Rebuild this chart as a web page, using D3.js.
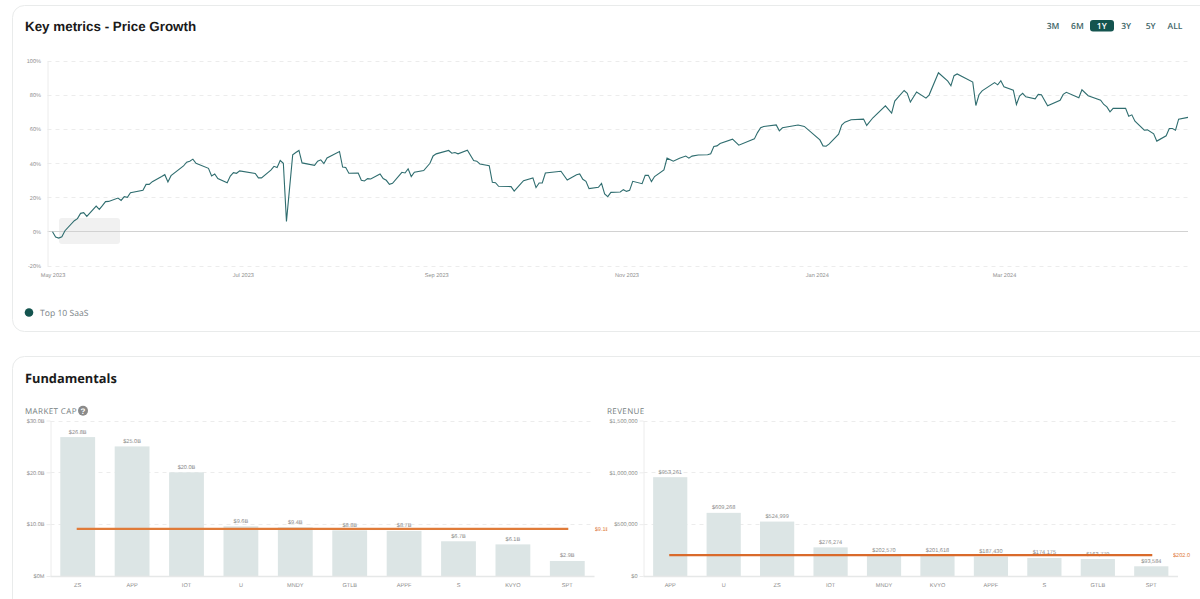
<!DOCTYPE html>
<html>
<head>
<meta charset="utf-8">
<style>
	html, body {
	  margin: 0;
	  background: #fff;
	  overflow: hidden;
	}

	svg {
	  display: block;
	  font-family: "Liberation Sans", Arial, sans-serif;
	  text-rendering: geometricPrecision;
	}

	.card {
	  fill: #fff;
	  stroke: #e9ebeb;
	  stroke-width: 1;
	}

	.tick text {
	  fill: #8f8f8f;
	  font-size: 5.6px;
	}

	.grid line {
	  stroke: #ececec;
	  stroke-dasharray: 4 4;
	}

	.bar {
	  fill: #dce5e5;
	}

	.bar-label {
	  fill: #8a8a8a;
	  font-size: 5.6px;
	  text-anchor: middle;
	}
</style>
</head>
<body>
<svg width="1200" height="599"></svg>

<script src="https://d3js.org/d3.v7.min.js"></script>
<script>

// price growth: days since 1 May 2023 / % growth
var dayOffsets = [0,1,2,3,4,7,8,9,10,11,14,15,16,17,18,21,22,23,24,25,29,30,31,32,35,36,37,38,42,43,44,45,46,50,51,52,53,56,57,58,59,60,65,66,67,70,71,72,73,74,75,77,78,79,80,84,85,86,87,88,92,93,94,95,98,99,100,101,102,105,106,107,108,109,112,113,114,115,116,119,121,122,123,127,128,129,130,133,135,136,137,140,141,142,143,147,148,150,151,154,155,156,157,158,163,165,168,169,170,171,172,175,176,177,178,179,182,183,184,185,186,189,190,191,192,193,196,197,199,201,203,204,205,207,210,211,212,213,214,218,220,225,226,227,228,232,233,234,239,241,246,247,248,249,252,253,254,256,260,261,263,267,269,270,273,274,275,277,280,281,284,287,288,289,290,295,296,297,298,302,303,304,305,308,309,310,311,312,315,316,317,319,323,324,325,329,330,332,336,337,338,339,340,344,345,346,347,350,351,353,354,357,358,359,360,361,364];
var growthPct = [-0.2,-3.3,-3.9,-3.1,0.4,6.3,7.5,10.6,11,8.8,14.9,12.9,15.1,17.5,17.6,19.6,18.2,20.4,20,22.7,24.1,27.6,27.6,29.2,32.2,33.3,29,32.7,38.4,40.6,41.2,42.4,40,37,32.5,33.7,31,28.6,32.5,34.5,34.1,35.5,34,31.4,31.4,36,38.2,37.5,41.6,40,5.9,44.9,46.3,47.5,40.2,38.8,41.2,42,39.8,43.1,46.9,37.8,37.5,34.1,34.3,30,29.6,31,30.8,33.7,31,30,27.6,28.2,34.7,34.3,36.7,32.2,34.7,35.7,40,44.3,45.5,47.5,45.9,46.3,45.5,47.6,41.6,41.2,39.6,38.6,28.8,28.6,26.5,26.3,23.7,27.8,29.8,31.4,25.7,28.4,28.4,34.3,35.3,30.2,33.3,33.7,30.6,29.4,25.1,25.9,28.2,22,20.4,22.9,23.1,24.5,23.5,24.1,29.4,28,32.9,32.9,29.2,32.2,36.1,43,41.2,43,44.2,43,44.2,44.8,45,45.6,49.8,50.2,51.6,54.1,50.6,54.3,58,60.8,61.6,62.5,59,60.8,62.4,61.6,53.7,50.2,50,51.4,57.1,62.4,64.1,65.5,65.9,62.2,66.7,73.7,69.4,76.5,82.7,81,75.9,81.8,78.2,80,93.1,88.2,85.5,91.4,92.4,87.6,73.9,80.2,82.5,87.3,86,88.4,84.9,82.9,74.5,79.4,81,79,77.8,80.4,80.2,73.7,76.9,80.4,81.6,78.4,83.1,79.6,77,74.5,73.1,70.2,72.2,72.2,67.6,68.4,64.7,59.4,59.6,57.3,53,56.1,60.4,60.4,59.4,65.9,66.9];
var pctTicks = [-20,0,20,40,60,80,100];
var monthTicks = [new Date(2023,4,1), new Date(2023,6,1), new Date(2023,8,1), new Date(2023,10,1), new Date(2024,0,1), new Date(2024,2,1)];
var ranges = ["3M","6M","1Y","3Y","5Y","ALL"];

var capTickers = ["ZS","APP","IOT","U","MNDY","GTLB","APPF","S","KVYO","SPT"];
var capValues = [26.8,25.0,20.0,9.6,9.4,8.8,8.7,6.7,6.1,2.9];
var capTicks = [0,10,20,30];
var capAverage = 9.1;

var revTickers = ["APP","U","ZS","IOT","MNDY","KVYO","APPF","S","GTLB","SPT"];
var revValues = [953261,609268,524999,276274,202570,201618,187430,174175,163779,93584];
var revTicks = [0,500000,1000000,1500000];
var revAverage = 202000;

var green = "#14544f";
var orange = "#e07b39";

var svg = d3.select("svg");

// cards run off the right edge and the bottom of the window
svg.append("rect").attr("class","card").attr("x",12.5).attr("y",5.5).attr("width",1230).attr("height",326).attr("rx",12);
svg.append("rect").attr("class","card").attr("x",12.5).attr("y",356.5).attr("width",1230).attr("height",320).attr("rx",12);

svg.append("text").attr("x",25).attr("y",31)
	.style("font-size","13.4px").style("font-weight","bold").style("fill","#1a1a1a")
	.text("Key metrics - Price Growth");

svg.append("text").attr("x",25).attr("y",383)
	.style("font-family","'Open Sans'").style("font-size","12.8px").style("font-weight","700").style("fill","#1a1a1a")
	.text("Fundamentals");

// range buttons
var rangeX = d3.scalePoint().domain(ranges).range([1053,1175]);
svg.append("rect").attr("x",1090).attr("y",20).attr("width",24).attr("height",11.5).attr("rx",3).attr("fill",green);
svg.selectAll(".range")
	.data(ranges)
	.join("text")
	.attr("class","range")
	.attr("x",function(d){
		return rangeX(d);
	})
	.attr("y",28.5)
	.attr("text-anchor","middle")
	.style("font-family","'Open Sans'")
	.style("font-size","8.5px")
	.style("font-weight","600")
	.style("fill",function(d){
		return d === "1Y" ? "#fff" : "#3f6668";
	})
	.text(function(d){
		return d;
	});

// price growth line
var lineLeft = 47.5, lineRight = 1188;
var startDate = new Date(2023,4,1);
var x = d3.scaleTime()
	.domain([startDate, d3.timeDay.offset(startDate,364)])
	.range([52.5,1188]);
var y = d3.scaleLinear().domain([-20,100]).range([265.5,61]);

var lineData = dayOffsets.map(function(d,i){
	return {date: d3.timeDay.offset(startDate,d), value: growthPct[i]};
});

svg.append("g")
	.attr("class","grid")
	.selectAll("line")
	.data(pctTicks.filter(function(d){ return d !== 0; }))
	.join("line")
	.attr("x1",lineLeft)
	.attr("x2",lineRight)
	.attr("y1",function(d){ return Math.round(y(d)) + 0.5; })
	.attr("y2",function(d){ return Math.round(y(d)) + 0.5; });

// watermark box behind the start of the line
svg.append("rect").attr("x",59).attr("y",218).attr("width",61).attr("height",26).attr("rx",3).attr("fill","#f1f1f1");

svg.append("line").attr("x1",lineLeft).attr("x2",lineRight).attr("y1",231.5).attr("y2",231.5).attr("stroke","#d2d2d2");

var yAxisG = svg.append("g")
	.attr("transform","translate(" + lineLeft + ",0)")
	.call(d3.axisLeft(y).tickValues(pctTicks).tickSize(0).tickPadding(6.5).tickFormat(function(d){ return d + "%"; }));
yAxisG.select(".domain").attr("stroke","#ececec");

var xAxisG = svg.append("g")
	.attr("transform","translate(0,270)")
	.call(d3.axisBottom(x).tickValues(monthTicks).tickSize(0).tickPadding(3).tickFormat(d3.timeFormat("%b %Y")));
xAxisG.select(".domain").remove();

svg.append("path")
	.datum(lineData)
	.attr("fill","none")
	.attr("stroke","#2f6d6f")
	.attr("stroke-width",1.1)
	.attr("d",d3.line()
		.x(function(d){ return x(d.date); })
		.y(function(d){ return y(d.value); }));

// legend
svg.append("circle").attr("cx",29).attr("cy",312.5).attr("r",4.3).attr("fill",green);
svg.append("text").attr("x",40).attr("y",316)
	.style("font-family","'Open Sans'").style("font-size","8.6px").style("fill","#7b8488")
	.text("Top 10 SaaS");

// one bar panel of the Fundamentals card
function drawBars(opts){
	var bx = d3.scaleBand().domain(opts.names).range([opts.left,opts.right]).paddingInner(0.36).paddingOuter(0.18);
	var by = d3.scaleLinear().domain(opts.domain).range([576,420.5]);

	svg.append("text").attr("x",opts.titleX).attr("y",413.5)
		.style("font-family","'Open Sans'").style("font-size","8px")
		.style("letter-spacing","0.4px").style("fill","#737d80")
		.text(opts.title);

	svg.append("g")
		.attr("class","grid")
		.selectAll("line")
		.data(opts.ticks.filter(function(d){ return d !== 0; }))
		.join("line")
		.attr("x1",opts.left)
		.attr("x2",opts.right)
		.attr("y1",function(d){ return Math.round(by(d)) + 0.5; })
		.attr("y2",function(d){ return Math.round(by(d)) + 0.5; });

	var yG = svg.append("g")
		.attr("transform","translate(" + opts.left + ",0)")
		.call(d3.axisLeft(by).tickValues(opts.ticks).tickSize(4).tickPadding(2).tickSizeOuter(0).tickFormat(opts.tickFormat));
	yG.select(".domain").attr("stroke","#ececec");
	yG.selectAll(".tick line").attr("stroke","#ececec");

	svg.selectAll(".bar." + opts.key)
		.data(opts.values)
		.join("rect")
		.attr("class","bar " + opts.key)
		.attr("x",function(d,i){ return bx(opts.names[i]); })
		.attr("y",function(d){ return by(d); })
		.attr("width",bx.bandwidth())
		.attr("height",function(d){ return 576 - by(d); });

	svg.append("line").attr("x1",opts.left).attr("x2",opts.right).attr("y1",576.5).attr("y2",576.5)
		.attr("stroke","#e6e8e8").attr("stroke-width",1.5);

	var xG = svg.append("g")
		.attr("transform","translate(0,578)")
		.call(d3.axisBottom(bx).tickSize(0).tickPadding(5));
	xG.select(".domain").remove();

	svg.selectAll(".bar-label." + opts.key)
		.data(opts.values)
		.join("text")
		.attr("class","bar-label " + opts.key)
		.attr("x",function(d,i){ return bx(opts.names[i]) + bx.bandwidth() / 2; })
		.attr("y",function(d){ return by(d) - 3.5; })
		.text(opts.labelFormat);

	// average line, the market cap label gets cut off by the panel
	svg.append("line")
		.attr("x1",bx(opts.names[0]) + bx.bandwidth() / 2 - 1)
		.attr("x2",bx(opts.names[9]) + bx.bandwidth() / 2 + 1)
		.attr("y1",by(opts.average))
		.attr("y2",by(opts.average))
		.attr("stroke",opts.avgColor)
		.attr("stroke-width",2.2);

	svg.append("clipPath").attr("id","clip-" + opts.key)
		.append("rect").attr("x",opts.labelX).attr("y",by(opts.average) - 6).attr("width",opts.clipWidth).attr("height",12);

	svg.append("text")
		.attr("clip-path","url(#clip-" + opts.key + ")")
		.attr("x",opts.labelX)
		.attr("y",by(opts.average) + 2)
		.style("font-size","5.6px")
		.style("fill",orange)
		.text(opts.averageLabel);
}

drawBars({
	key: "cap",
	title: "MARKET CAP",
	titleX: 25,
	names: capTickers,
	values: capValues,
	ticks: capTicks,
	domain: [0,30],
	left: 50.5,
	right: 594.5,
	average: capAverage,
	averageLabel: "$" + capAverage.toFixed(1) + "B",
	avgColor: orange,
	labelX: 594.7,
	clipWidth: 12.6,
	tickFormat: function(d){ return d === 0 ? "$0M" : "$" + d.toFixed(1) + "B"; },
	labelFormat: function(d){ return "$" + d.toFixed(1) + "B"; }
});

drawBars({
	key: "rev",
	title: "REVENUE",
	titleX: 607,
	names: revTickers,
	values: revValues,
	ticks: revTicks,
	domain: [0,1500000],
	left: 643.5,
	right: 1178,
	average: revAverage,
	averageLabel: "$" + (revAverage / 1000).toFixed(1),
	avgColor: "#d96a2b",
	labelX: 1173,
	clipWidth: 20,
	tickFormat: function(d){ return "$" + d3.format(",")(d); },
	labelFormat: function(d){ return "$" + d3.format(",")(d); }
});

// help icon next to MARKET CAP
svg.append("circle").attr("cx",83).attr("cy",410.7).attr("r",5).attr("fill","#8a8a8a");
svg.append("text").attr("x",83).attr("y",413.5).attr("text-anchor","middle")
	.style("font-size","8px").style("font-weight","bold").style("fill","#fff").text("?");

</script>
</body>
</html>
